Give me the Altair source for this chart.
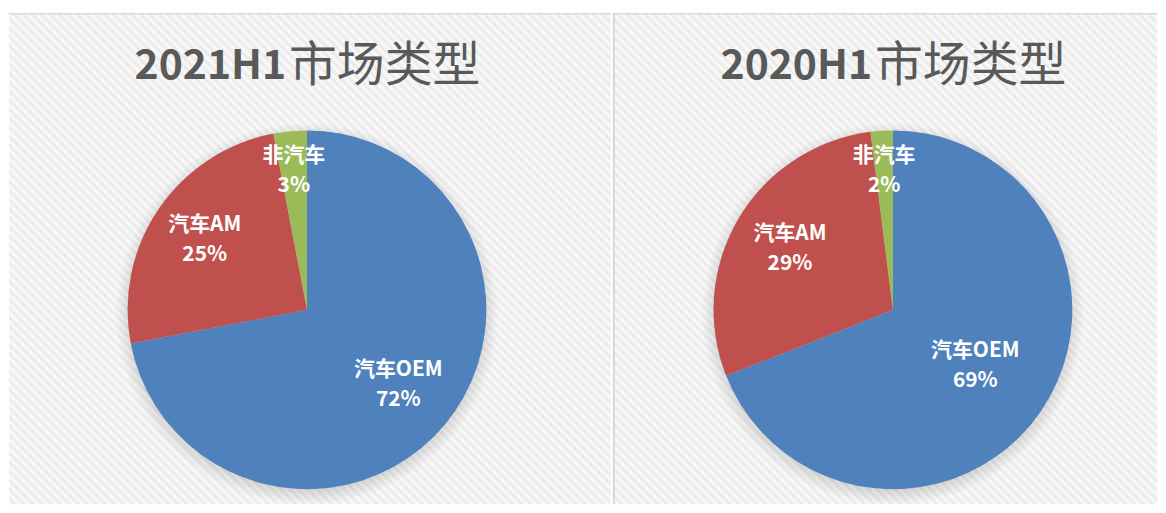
import math
import altair as alt
import pandas as pd

# ---------------- data ----------------
categories = ["汽车OEM", "汽车AM", "非汽车"]
share_2021h1 = [72, 25, 3]
share_2020h1 = [69, 29, 2]
title_years = ["2021H1", "2020H1"]
title_suffix = "市场类型"

# ---------------- style ----------------
colors = ["#4F81BD", "#C0504D", "#9BBB59"]
FONT = "Noto Sans CJK SC"
H = 497
PIE_R = 180


def hatch_fill(side):
    n = int(round(side * math.sqrt(2) / 6.4))
    stops = []
    for k in range(2 * n + 1):
        stops.append({"offset": k / (2 * n),
                      "color": "#e9e9e9" if k % 2 == 0 else "#fbfbfb"})
    return {"gradient": "linear", "x1": 0, "y1": 1, "x2": 1, "y2": 0, "stops": stops}


def panel(year, shares, w, cx, cy, label_r, left_divider):
    df = pd.DataFrame({"cat": categories, "share": shares, "idx": list(range(len(categories)))})
    one = pd.DataFrame({"k": [0]})
    side = max(w, H)
    theta_scale = alt.Scale(domain=[0, sum(shares)])

    bg = alt.Chart(one).mark_rect(fill=hatch_fill(side), clip=True).encode(
        x=alt.value(0), x2=alt.value(side), y=alt.value(5), y2=alt.value(5 + side)
    )
    top_line = alt.Chart(one).mark_rule(color="#d9d9d9", strokeWidth=1.5).encode(
        x=alt.value(0), x2=alt.value(w), y=alt.value(5)
    )
    layers = [bg, top_line]
    if left_divider:
        layers.append(alt.Chart(one).mark_rule(color="#d6d6d6", strokeWidth=2).encode(
            x=alt.value(1), y=alt.value(5), y2=alt.value(H)
        ))

    shadow = alt.Chart(one).mark_arc(
        theta=0, theta2=2 * math.pi, radius=PIE_R + 12,
        fill={"gradient": "radial", "x1": 0.5, "y1": 0.5, "r1": 0,
              "x2": 0.5, "y2": 0.5, "r2": 0.5,
              "stops": [{"offset": 0, "color": "rgba(0,0,0,0.22)"},
                        {"offset": 0.9, "color": "rgba(0,0,0,0.16)"},
                        {"offset": 1, "color": "rgba(0,0,0,0)"}]},
    ).encode(x=alt.value(cx), y=alt.value(cy + 4))
    layers.append(shadow)

    pie = alt.Chart(df).mark_arc(radius=PIE_R).encode(
        theta=alt.Theta("share:Q", stack=True, scale=theta_scale),
        order=alt.Order("idx:Q"),
        color=alt.Color("cat:N", scale=alt.Scale(domain=categories, range=colors), legend=None),
        x=alt.value(cx), y=alt.value(cy),
    )
    rexpr = "[" + ",".join(str(v) for v in label_r) + "][datum.idx]"
    lab = alt.Chart(df).transform_window(
        cum="sum(share)", sort=[alt.SortField("idx")]
    ).transform_calculate(
        mid="datum.cum - datum.share / 2", r=rexpr, pct="datum.share + '%'"
    ).encode(
        theta=alt.Theta("mid:Q", stack=None, scale=theta_scale),
        radius=alt.Radius("r:Q", scale=None),
        x=alt.value(cx), y=alt.value(cy),
    )
    name_t = lab.mark_text(font=FONT, fontSize=21, fontWeight="bold", color="white",
                           dy=-15, baseline="middle").encode(text="cat:N")
    pct_t = lab.mark_text(font=FONT, fontSize=21, fontWeight="bold", color="white",
                          dy=15, baseline="middle").encode(text="pct:N")
    layers += [pie, name_t, pct_t]

    t1 = alt.Chart(one).mark_text(font=FONT, fontSize=41, fontWeight="bold", color="#595959",
                                  align="right", baseline="alphabetic").encode(
        x=alt.value(cx - 21), y=alt.value(70), text=alt.value(year))
    t2 = alt.Chart(one).mark_text(font=FONT, fontSize=48, fontWeight="normal", color="#595959",
                                  align="left", baseline="alphabetic").encode(
        x=alt.value(cx - 18), y=alt.value(72), text=alt.value(title_suffix))
    layers += [t1, t2]

    return alt.layer(*layers).properties(width=w, height=H)


left = panel(title_years[0], share_2021h1, 604, 299, 302, [119, 124, 140], False)
right = panel(title_years[1], share_2020h1, 546, 281, 302, [100, 120, 140], True)

chart = alt.hconcat(left, right, spacing=0).properties(padding=0).configure_view(strokeWidth=0)

chart.save("out.html", embed_options={"renderer": "svg", "actions": False})
